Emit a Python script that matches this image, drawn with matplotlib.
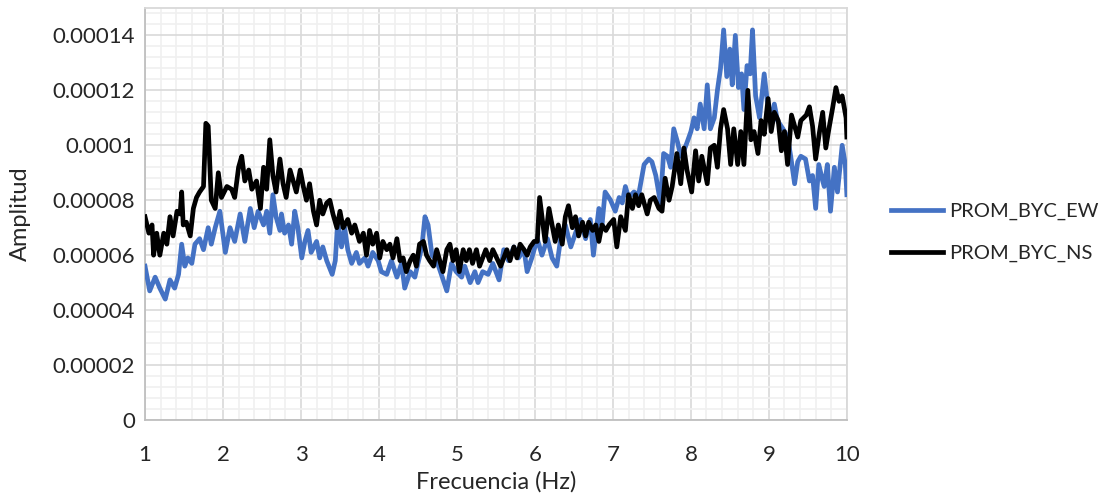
import matplotlib.pyplot as plt
from matplotlib.ticker import MultipleLocator, FuncFormatter
import numpy as np

# Amplitude spectra averaged per component (amplitudes in units of 1e-5)
ew_freq = [1.00, 1.06, 1.13, 1.19, 1.26, 1.32, 1.38, 1.43, 1.47, 1.51, 1.55, 1.60, 1.64, 1.70, 1.75,
           1.81, 1.85, 1.90, 1.96, 2.03, 2.09, 2.15, 2.22, 2.28, 2.35, 2.40, 2.45, 2.52, 2.56, 2.60,
           2.64, 2.68, 2.73, 2.75, 2.79, 2.84, 2.88, 2.92, 2.96, 3.01, 3.05, 3.09, 3.13, 3.20, 3.24,
           3.28, 3.33, 3.40, 3.44, 3.47, 3.52, 3.56, 3.60, 3.65, 3.71, 3.75, 3.82, 3.86, 3.92, 3.99,
           4.03, 4.10, 4.16, 4.23, 4.29, 4.33, 4.40, 4.46, 4.50, 4.55, 4.59, 4.63, 4.68, 4.74, 4.80,
           4.87, 4.93, 4.99, 5.06, 5.10, 5.17, 5.23, 5.27, 5.33, 5.40, 5.46, 5.54, 5.60, 5.66, 5.73,
           5.79, 5.86, 5.90, 5.96, 6.03, 6.09, 6.16, 6.22, 6.28, 6.33, 6.39, 6.46, 6.52, 6.58, 6.65,
           6.71, 6.75, 6.82, 6.86, 6.90, 6.97, 7.03, 7.08, 7.12, 7.16, 7.20, 7.27, 7.33, 7.40, 7.46,
           7.50, 7.55, 7.61, 7.65, 7.70, 7.74, 7.78, 7.83, 7.87, 7.91, 7.95, 8.00, 8.04, 8.08, 8.12,
           8.17, 8.21, 8.25, 8.30, 8.34, 8.38, 8.42, 8.46, 8.50, 8.53, 8.57, 8.61, 8.65, 8.68, 8.72,
           8.76, 8.79, 8.83, 8.88, 8.94, 8.98, 9.03, 9.07, 9.11, 9.18, 9.24, 9.28, 9.33, 9.37, 9.41,
           9.47, 9.52, 9.56, 9.60, 9.64, 9.69, 9.71, 9.75, 9.79, 9.84, 9.88, 9.94, 9.98, 10.00]
ew_amp = [5.6, 4.7, 5.2, 4.8, 4.4, 5.1, 4.8, 5.3, 6.4, 5.6, 5.9, 5.7, 6.4, 6.6, 6.2,
          7.0, 6.4, 7.0, 7.6, 6.1, 7.0, 6.5, 7.5, 6.5, 7.7, 7.0, 7.6, 7.1, 7.6, 6.8,
          8.2, 7.4, 6.9, 7.5, 6.8, 7.1, 6.4, 7.6, 7.0, 5.9, 6.5, 6.9, 6.1, 6.5, 5.9,
          6.3, 5.8, 5.3, 5.8, 7.2, 6.3, 7.0, 6.2, 5.7, 6.1, 5.7, 5.9, 5.6, 6.1, 5.8,
          5.4, 5.3, 5.8, 5.2, 5.7, 4.8, 5.4, 5.2, 5.7, 6.3, 7.4, 7.1, 6.0, 5.8, 5.3,
          4.7, 5.7, 5.4, 5.2, 5.6, 5.0, 5.4, 5.0, 5.4, 5.3, 5.7, 5.1, 6.2, 5.8, 6.3,
          5.9, 6.2, 5.4, 5.9, 6.6, 6.0, 6.6, 5.9, 5.6, 6.6, 7.1, 6.3, 6.8, 7.3, 6.6,
          7.3, 6.0, 7.7, 7.1, 8.3, 8.0, 7.6, 8.1, 7.9, 8.5, 8.1, 8.3, 8.2, 9.3, 9.5,
          9.4, 8.9, 7.9, 9.7, 9.6, 9.2, 10.6, 10.1, 9.6, 9.8, 10.1, 10.5, 11.0, 10.6, 11.5,
          10.6, 12.2, 10.6, 11.0, 12.0, 12.8, 14.2, 12.5, 13.5, 12.2, 14.0, 12.1, 12.6, 11.3, 12.9,
          12.6, 14.2, 11.8, 11.0, 12.6, 11.6, 11.0, 11.5, 10.9, 10.6, 10.3, 9.6, 8.6, 9.4, 9.6,
          9.5, 8.7, 8.9, 7.7, 9.3, 8.7, 8.5, 9.3, 7.6, 9.2, 8.3, 10.0, 9.3, 8.2]

ns_freq = [1.00, 1.05, 1.09, 1.11, 1.15, 1.19, 1.24, 1.28, 1.32, 1.36, 1.41, 1.45, 1.47, 1.49, 1.53,
           1.58, 1.62, 1.66, 1.70, 1.75, 1.78, 1.81, 1.85, 1.90, 1.94, 1.98, 2.05, 2.11, 2.15, 2.20,
           2.24, 2.28, 2.33, 2.37, 2.43, 2.48, 2.52, 2.56, 2.60, 2.64, 2.68, 2.73, 2.77, 2.81, 2.86,
           2.90, 2.94, 2.99, 3.03, 3.07, 3.11, 3.16, 3.20, 3.24, 3.28, 3.33, 3.37, 3.41, 3.46, 3.50,
           3.54, 3.60, 3.65, 3.69, 3.75, 3.80, 3.84, 3.88, 3.92, 3.97, 4.01, 4.05, 4.10, 4.14, 4.18,
           4.23, 4.27, 4.31, 4.35, 4.40, 4.44, 4.48, 4.52, 4.57, 4.61, 4.65, 4.70, 4.74, 4.78, 4.82,
           4.87, 4.91, 4.95, 4.99, 5.03, 5.08, 5.12, 5.16, 5.20, 5.25, 5.29, 5.33, 5.37, 5.42, 5.46,
           5.51, 5.56, 5.60, 5.64, 5.68, 5.73, 5.77, 5.81, 5.86, 5.90, 5.94, 5.99, 6.03, 6.06, 6.09,
           6.13, 6.18, 6.22, 6.26, 6.30, 6.35, 6.39, 6.43, 6.48, 6.52, 6.56, 6.61, 6.65, 6.69, 6.74,
           6.78, 6.82, 6.86, 6.91, 6.95, 7.01, 7.05, 7.10, 7.16, 7.20, 7.25, 7.29, 7.33, 7.37, 7.44,
           7.48, 7.53, 7.59, 7.63, 7.67, 7.72, 7.76, 7.82, 7.87, 7.91, 7.95, 8.01, 8.06, 8.10, 8.14,
           8.21, 8.25, 8.30, 8.34, 8.38, 8.42, 8.47, 8.51, 8.55, 8.60, 8.64, 8.68, 8.73, 8.77, 8.81,
           8.86, 8.90, 8.94, 8.99, 9.03, 9.07, 9.12, 9.16, 9.20, 9.24, 9.29, 9.33, 9.37, 9.41, 9.48,
           9.52, 9.56, 9.60, 9.65, 9.69, 9.73, 9.77, 9.82, 9.86, 9.90, 9.94, 9.99, 10.00]
ns_amp = [7.4, 6.8, 7.1, 6.0, 6.8, 6.0, 6.8, 6.4, 7.4, 6.7, 7.6, 7.5, 8.3, 7.1, 7.2,
          6.7, 7.7, 8.1, 8.3, 8.5, 10.8, 10.7, 8.0, 7.7, 9.0, 8.1, 8.5, 8.4, 8.1, 9.2,
          9.6, 8.7, 9.1, 8.4, 8.7, 7.7, 9.2, 8.4, 10.2, 8.9, 8.3, 9.5, 8.6, 8.1, 9.1,
          8.7, 8.3, 9.1, 8.5, 8.0, 8.6, 7.6, 7.1, 8.0, 7.5, 7.9, 8.0, 7.5, 7.0, 7.6,
          7.0, 7.3, 6.8, 7.1, 6.5, 6.8, 6.0, 6.9, 6.4, 6.8, 5.9, 6.5, 6.2, 6.4, 5.9,
          6.6, 5.8, 5.9, 5.4, 5.8, 6.0, 5.6, 6.4, 6.5, 6.0, 5.8, 5.6, 6.2, 5.8, 5.4,
          6.2, 6.4, 5.8, 6.2, 5.4, 6.2, 5.8, 6.2, 5.7, 6.2, 5.6, 5.9, 6.2, 5.8, 6.2,
          5.9, 5.6, 5.9, 6.2, 5.8, 6.3, 5.9, 6.4, 6.2, 6.0, 6.3, 6.5, 6.5, 8.1, 7.4,
          6.5, 7.7, 7.1, 6.5, 7.1, 6.4, 7.4, 7.8, 7.0, 7.4, 6.7, 7.2, 6.7, 7.2, 6.9,
          7.1, 6.5, 7.1, 6.9, 7.1, 7.3, 6.3, 7.4, 6.9, 8.2, 7.7, 8.2, 7.8, 8.2, 7.5,
          8.0, 8.1, 7.7, 7.6, 8.8, 8.0, 8.5, 9.7, 8.6, 9.9, 9.1, 8.3, 9.8, 8.7, 9.6,
          8.6, 9.9, 10.0, 9.2, 10.6, 11.3, 10.6, 9.3, 10.6, 9.3, 10.5, 9.3, 12.0, 10.2, 10.5,
          9.7, 10.9, 10.4, 11.7, 10.5, 11.2, 10.9, 9.8, 10.5, 9.3, 11.1, 10.7, 10.3, 10.9, 11.1,
          11.4, 10.7, 9.5, 10.5, 11.2, 9.9, 10.6, 11.4, 12.1, 11.6, 11.8, 11.0, 10.3]

series_names = ["PROM_BYC_EW", "PROM_BYC_NS"]
series_colors = ["#4472C4", "#000000"]

plt.rcParams['font.family'] = ['Lato', 'DejaVu Sans']

fig = plt.figure(figsize=(11.07, 4.95), dpi=100)
ax = fig.add_axes([0.131, 0.1515, 0.634, 0.8325])

ax.plot(ew_freq, np.array(ew_amp) * 1e-5, color=series_colors[0], lw=3.4,
        solid_joinstyle='round', label=series_names[0], zorder=3)
ax.plot(ns_freq, np.array(ns_amp) * 1e-5, color=series_colors[1], lw=3.4,
        solid_joinstyle='round', label=series_names[1], zorder=4)

ax.set_xlim(1, 10)
ax.set_ylim(0, 0.00015)
ax.xaxis.set_major_locator(MultipleLocator(1))
ax.xaxis.set_minor_locator(MultipleLocator(0.2))
ax.yaxis.set_major_locator(MultipleLocator(0.00002))
ax.yaxis.set_minor_locator(MultipleLocator(0.000004))


def fmt_amp(v, pos):
    if abs(v) < 1e-12:
        return "0"
    return f"{v:.5f}".rstrip('0').rstrip('.')


ax.yaxis.set_major_formatter(FuncFormatter(fmt_amp))
ax.set_yticks(np.arange(0, 0.000141, 0.00002))

ax.grid(which='major', color='#d9d9d9', lw=1.2, zorder=0)
ax.grid(which='minor', color='#f0f0f0', lw=1.2, zorder=0)
ax.set_axisbelow(True)

ax.tick_params(which='both', length=0)
ax.tick_params(axis='x', labelsize=16, pad=18, colors='#262626')
ax.tick_params(axis='y', labelsize=16, pad=7, colors='#262626')
for side in ['top', 'right']:
    ax.spines[side].set_color('#d9d9d9')
for side in ['left', 'bottom']:
    ax.spines[side].set_color('#bfbfbf')
for s in ax.spines.values():
    s.set_linewidth(1.3)

ax.set_xlabel("Frecuencia (Hz)", fontsize=17, color='#262626', labelpad=4)
ax.set_ylabel("Amplitud", fontsize=17, color='#262626', labelpad=16)

ax.legend(loc='center left', bbox_to_anchor=(1.037, 0.455), frameon=False,
          fontsize=14.5, handlelength=2.6, handletextpad=0.3, labelspacing=1.25,
          labelcolor='#262626')

fig.savefig("out.png", dpi=100)
